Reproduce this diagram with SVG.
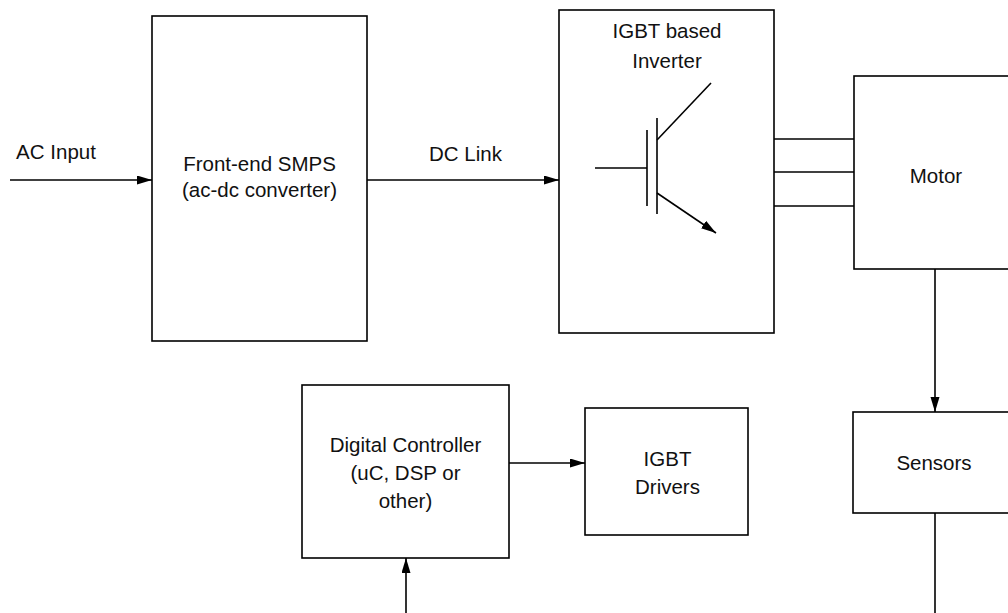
<svg xmlns="http://www.w3.org/2000/svg" width="1008" height="613" viewBox="0 0 1008 613">
<style>
.box{fill:#fff;stroke:#000;stroke-width:1.6}
.ln{fill:none;stroke:#000;stroke-width:1.6}
.t{font-family:"Liberation Sans",Arial,sans-serif;font-size:20.5px;fill:#111;text-anchor:middle}
</style>
<defs>
<marker id="ah" markerUnits="userSpaceOnUse" markerWidth="16" markerHeight="10" refX="15" refY="4.5" orient="auto">
<path d="M0,0 L15,4.5 L0,9 z" fill="#000"/>
</marker>
</defs>
<rect width="1008" height="613" fill="#fff"/>
<g id="smps">
<rect class="box" x="152" y="16" width="215" height="325"/>
<text class="t" x="259.5" y="170.5">Front-end SMPS</text>
<text class="t" x="259.5" y="196.5">(ac-dc converter)</text>
</g>
<g id="inverter">
<rect class="box" x="559" y="10" width="215" height="323"/>
<text class="t" x="667" y="37.5">IGBT based</text>
<text class="t" x="667" y="68">Inverter</text>
<g id="igbt-symbol">
<line class="ln" x1="595" y1="168" x2="647" y2="168"/>
<line class="ln" x1="647" y1="130" x2="647" y2="206"/>
<line class="ln" x1="657" y1="118" x2="657" y2="214"/>
<line class="ln" x1="657" y1="140" x2="711" y2="83"/>
<line class="ln" x1="657" y1="193" x2="716" y2="233" marker-end="url(#ah)"/>
</g>
</g>
<g id="motor">
<rect class="box" x="854" y="76" width="170" height="193"/>
<text class="t" x="936" y="182.5">Motor</text>
</g>
<g id="sensors">
<rect class="box" x="853" y="412" width="170" height="101"/>
<text class="t" x="934" y="470">Sensors</text>
</g>
<g id="controller">
<rect class="box" x="302" y="385" width="207" height="173"/>
<text class="t" x="405.5" y="452">Digital Controller</text>
<text class="t" x="405.5" y="480">(uC, DSP or</text>
<text class="t" x="405.5" y="508">other)</text>
</g>
<g id="drivers">
<rect class="box" x="585" y="408" width="163" height="127"/>
<text class="t" x="667.5" y="465.5">IGBT</text>
<text class="t" x="667.5" y="494">Drivers</text>
</g>
<g id="connectors">
<line class="ln" x1="10" y1="180" x2="152" y2="180" marker-end="url(#ah)"/>
<text class="t" x="56" y="159">AC Input</text>
<line class="ln" x1="367" y1="180" x2="559" y2="180" marker-end="url(#ah)"/>
<text class="t" x="465.5" y="161">DC Link</text>
<line class="ln" x1="774" y1="139" x2="854" y2="139"/>
<line class="ln" x1="774" y1="172" x2="854" y2="172"/>
<line class="ln" x1="774" y1="206" x2="854" y2="206"/>
<line class="ln" x1="935" y1="269" x2="935" y2="412" marker-end="url(#ah)"/>
<line class="ln" x1="509" y1="463" x2="585" y2="463" marker-end="url(#ah)"/>
<line class="ln" x1="935" y1="513" x2="935" y2="613"/>
<line class="ln" x1="406" y1="613" x2="406" y2="558" marker-end="url(#ah)"/>
</g>
</svg>
